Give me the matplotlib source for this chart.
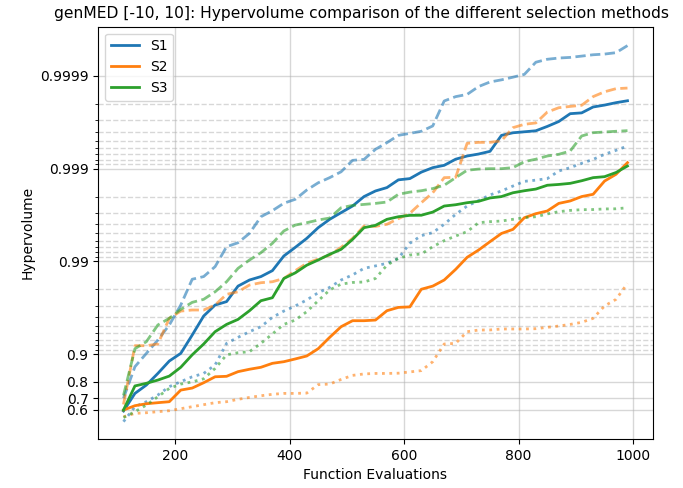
#!/usr/bin/env python3

import matplotlib
matplotlib.use("Agg")
import matplotlib.pyplot as plt
import matplotlib.ticker as mticker
import numpy as np

# function evaluations (110, 130, ..., 990)
evals = list(range(110, 1000, 20))

s1_median = [0.588, 0.734, 0.784, 0.838, 0.881, 0.9016, 0.9376, 0.9611, 0.9704, 0.9728,
             0.9815, 0.9841, 0.9854, 0.9874, 0.99125, 0.99294, 0.99435, 0.99567, 0.99648, 0.99702,
             0.99747, 0.99800, 0.99826, 0.99840, 0.99868, 0.99872, 0.99891, 0.999025, 0.99908, 0.99921,
             0.99927, 0.999305, 0.99935, 0.999563, 0.99959, 0.99960, 0.99961, 0.99965, 0.99969, 0.999745,
             0.99975, 0.999784, 0.999794, 0.999806, 0.999815]
s1_max = [0.70, 0.863, 0.9016, 0.9294, 0.9514, 0.9704, 0.9844, 0.9854, 0.9886, 0.99305,
          0.9937, 0.99501, 0.9967, 0.99716, 0.99764, 0.99786, 0.9983, 0.99858, 0.99875, 0.99892,
          0.999187, 0.999206, 0.999382, 0.999476, 0.999563, 0.999584, 0.999605, 0.999654, 0.999814, 0.999833,
          0.999842, 0.99987, 0.999884, 0.99989, 0.999897, 0.999904, 0.999929, 0.999934, 0.999936, 0.999937,
          0.999939, 0.999941, 0.999942, 0.999944, 0.999953]
s1_min = [0.463, 0.63, 0.673, 0.723, 0.775, 0.801, 0.824, 0.838, 0.869, 0.9233,
          0.9339, 0.9426, 0.9493, 0.9598, 0.9656, 0.9697, 0.9739, 0.9782, 0.9809, 0.9841,
          0.986, 0.9881, 0.9888, 0.9895, 0.99071, 0.99361, 0.99472, 0.9951, 0.99602, 0.99689,
          0.99747, 0.99779, 0.99808, 0.99826, 0.99846, 0.99863, 0.99867, 0.99872, 0.99894, 0.999025,
          0.999124, 0.999206, 0.9993, 0.999366, 0.999431]

s2_median = [0.598, 0.639, 0.656, 0.665, 0.673, 0.755, 0.767, 0.796, 0.824, 0.826,
             0.845, 0.854, 0.861, 0.874, 0.879, 0.887, 0.895, 0.9124, 0.9339, 0.9493,
             0.9563, 0.9563, 0.957, 0.9659, 0.9686, 0.969, 0.98, 0.9815, 0.9841, 0.9878,
             0.99095, 0.99245, 0.99387, 0.995, 0.99548, 0.99662, 0.99694, 0.99714, 0.99763, 0.99777,
             0.998, 0.99811, 0.99864, 0.99885, 0.999139]
s2_max = [0.65, 0.9187, 0.9187, 0.922, 0.9588, 0.9656, 0.9665, 0.9665, 0.9704, 0.9773,
          0.9787, 0.982, 0.983, 0.9834, 0.9847, 0.9874, 0.9895, 0.99056, 0.99145, 0.99294,
          0.99435, 0.99584, 0.9958, 0.99602, 0.99654, 0.99697, 0.99767, 0.99818, 0.99875, 0.99876,
          0.999467, 0.99948, 0.99948, 0.9995, 0.999639, 0.999668, 0.999679, 0.999755, 0.99978, 0.999787,
          0.999793, 0.999833, 0.999852, 0.999863, 0.999865]
s2_min = [0.525, 0.563, 0.57, 0.581, 0.591, 0.611, 0.63, 0.648, 0.665, 0.673,
          0.692, 0.706, 0.718, 0.728, 0.734, 0.734, 0.736, 0.786, 0.789, 0.812,
          0.83, 0.836, 0.838, 0.838, 0.839, 0.844, 0.849, 0.879, 0.922, 0.9233,
          0.9426, 0.9449, 0.945, 0.9463, 0.9463, 0.9463, 0.9467, 0.9485, 0.9501, 0.9521,
          0.9545, 0.9588, 0.9697, 0.9743, 0.9827]

s3_median = [0.598, 0.779, 0.793, 0.809, 0.827, 0.861, 0.898, 0.922, 0.9426, 0.9521,
             0.9577, 0.9659, 0.9734, 0.9753, 0.9847, 0.9867, 0.989, 0.99033, 0.9916, 0.99258,
             0.99421, 0.99567, 0.99591, 0.99648, 0.9967, 0.99681, 0.99682, 0.99706, 0.99747, 0.99755,
             0.99767, 0.99775, 0.99793, 0.998, 0.99818, 0.99827, 0.99834, 0.99849, 0.99852, 0.99856,
             0.99865, 0.99875, 0.99878, 0.9989, 0.999064]
s3_max = [0.72, 0.9124, 0.9264, 0.9514, 0.9588, 0.967, 0.9723, 0.9743, 0.9787, 0.9834,
          0.9881, 0.99033, 0.99194, 0.99361, 0.9953, 0.99594, 0.99617, 0.99642, 0.99659, 0.99736,
          0.99751, 0.99757, 0.99763, 0.99771, 0.99811, 0.99821, 0.99827, 0.99836, 0.99849, 0.99875,
          0.99896, 0.99899, 0.999, 0.999, 0.999025, 0.99916, 0.99921, 0.99927, 0.9993, 0.999355,
          0.999556, 0.999591, 0.999598, 0.999605, 0.999611]
s3_min = [0.515, 0.581, 0.645, 0.711, 0.765, 0.789, 0.8, 0.815, 0.857, 0.898,
          0.9032, 0.9056, 0.9233, 0.9392, 0.9521, 0.957, 0.9651, 0.9734, 0.9796, 0.9824,
          0.9831, 0.9833, 0.9847, 0.989, 0.99071, 0.99145, 0.99167, 0.99305, 0.99402, 0.99467,
          0.99522, 0.99617, 0.99627, 0.99633, 0.99648, 0.99662, 0.9967, 0.99692, 0.99709, 0.99718,
          0.99723, 0.99724, 0.99728, 0.99729, 0.99736]

methods = ['S1', 'S2', 'S3']
colors = ['tab:blue', 'tab:orange', 'tab:green']
medians = [s1_median, s2_median, s3_median]
maxes = [s1_max, s2_max, s3_max]
mins = [s1_min, s2_min, s3_min]

major_ticks = [0.6, 0.7, 0.8, 0.9, 0.99, 0.999, 0.9999]
major_labels = ['0.6', '0.7', '0.8', '0.9', '0.99', '0.999', '0.9999']
minor_ticks = [1 - m * 10.0 ** -k for k in (2, 3, 4) for m in range(2, 10)]


def forward(y):
    y = np.asarray(y, dtype=float)
    return -np.log10(np.clip(1 - y, 1e-12, None))


def inverse(t):
    return 1 - 10.0 ** (-np.asarray(t, dtype=float))


fig = plt.figure(figsize=(6.83, 4.88), dpi=100)
ax = fig.add_subplot(1, 1, 1)
fig.subplots_adjust(left=0.1439, right=0.9556, top=0.9453, bottom=0.1004)

for name, c, med, hi, lo in zip(methods, colors, medians, maxes, mins):
    ax.plot(evals, med, color=c, linewidth=2, label=name)
    ax.plot(evals, hi, color=c, linewidth=2, linestyle='--', alpha=0.6)
    ax.plot(evals, lo, color=c, linewidth=2, linestyle=':', alpha=0.6)

ax.set_yscale('function', functions=(forward, inverse))
ax.set_ylim(inverse(0.083), inverse(4.532))
ax.yaxis.set_major_locator(mticker.FixedLocator(major_ticks))
ax.yaxis.set_major_formatter(mticker.FixedFormatter(major_labels))
ax.yaxis.set_minor_locator(mticker.FixedLocator(minor_ticks))
ax.yaxis.set_minor_formatter(mticker.NullFormatter())

ax.grid(which='major', color='#b0b0b0', alpha=0.5, linewidth=1)
ax.grid(which='minor', axis='y', color='#b0b0b0', alpha=0.5, linestyle='--', linewidth=1)

ax.set_xlabel('Function Evaluations')
ax.set_ylabel('Hypervolume')
ax.set_title('genMED [-10, 10]: Hypervolume comparison of the different selection methods',
             fontsize=11.2, x=0.474)
ax.legend(loc='upper left')

fig.savefig('out.png', dpi=100)
